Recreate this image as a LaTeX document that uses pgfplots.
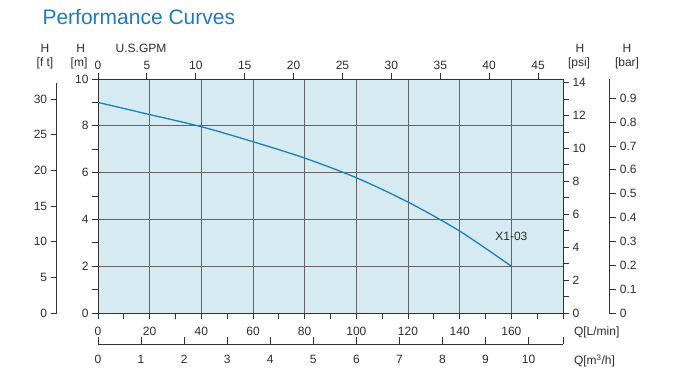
\documentclass[border=0pt]{standalone}
\usepackage{pgfplots}
\pgfplotsset{compat=1.18}
\usepackage{fontspec}
\setmainfont{Liberation Sans}
\definecolor{ttl}{RGB}{30,125,180}
\definecolor{crv}{RGB}{25,130,185}
\definecolor{bgf}{RGB}{214,234,241}
\definecolor{grd}{RGB}{100,100,100}
\definecolor{axc}{RGB}{50,50,50}
\definecolor{txt}{RGB}{45,45,45}
\begin{document}
\begin{tikzpicture}
\useasboundingbox (0pt,0pt) rectangle (700pt,385pt);
\pgfplotsset{every axis/.append style={
  scale only axis,
  tick label style={font=\fontsize{12}{14}\selectfont, text=txt},
  /pgf/number format/assume math mode=true,
  axis line style={axc, line width=0.9pt},
  every tick/.style={axc, line width=0.9pt},
  major tick length=6pt, minor tick length=6pt,
  tick align=outside,
}}
% main axis
\begin{axis}[
  at={(98pt,72pt)}, anchor=south west,
  width=465pt, height=234pt,
  xmin=0, xmax=180, ymin=0, ymax=10,
  xtick={0,20,...,160}, minor xtick={10,30,...,170,180},
  ytick={0,2,...,10}, minor ytick={1,3,...,9},
  xtick pos=bottom, ytick pos=left,
  xticklabel style={yshift=-5pt},
  grid=major, grid style={grd, line width=0.6pt},
  axis background/.style={fill=bgf},
]
\addplot[crv, line width=1.3pt, smooth, tension=0.5] coordinates {
(0,9.0)(20,8.48)(40,7.96)(60,7.32)(80,6.62)(100,5.78)(120,4.74)(140,3.5)(160,2.0)};
\node[font=\fontsize{12}{14}\selectfont, text=txt] at (axis cs:160,3.28) {X1-03};
\end{axis}
% GPM top axis
\begin{axis}[
  at={(98pt,72pt)}, anchor=south west,
  width=465pt, height=234pt,
  xmin=0, xmax=47.551, ymin=0, ymax=1,
  axis x line*=top, hide y axis,
  xtick={0,5,...,45},
]
\end{axis}
% psi right axis
\begin{axis}[
  at={(98pt,72pt)}, anchor=south west,
  width=465pt, height=234pt,
  xmin=0, xmax=1, ymin=0, ymax=14.2233,
  axis y line*=right, hide x axis,
  ytick={0,2,...,14}, minor ytick={1,3,...,13},
]
\end{axis}
% bar axis
\begin{axis}[
  at={(609.3pt,72pt)}, anchor=south east,
  width=20pt, height=234pt,
  xmin=0, xmax=1, ymin=0, ymax=0.98067,
  axis y line*=right, hide x axis,
  major tick length=7pt,
  ytick={0,0.1,0.2,0.3,0.4,0.5,0.6,0.7,0.8,0.9},
  yticklabels={0,0.1,0.2,0.3,0.4,0.5,0.6,0.7,0.8,0.9},
]
\end{axis}
% ft axis
\begin{axis}[
  at={(56.7pt,72pt)}, anchor=south west,
  width=20pt, height=230.4pt,
  xmin=0, xmax=1, ymin=0, ymax=32.3,
  axis y line*=left, hide x axis,
  ytick={0,5,...,30},
]
\end{axis}
% m3/h axis
\begin{axis}[
  at={(98pt,41pt)}, anchor=south west,
  width=465pt, height=10pt,
  xmin=0, xmax=10.8, ymin=0, ymax=1,
  axis x line*=bottom, hide y axis,
  tick align=inside, major tick length=7pt,
  xtick={0,1,...,10},
  xticklabel style={yshift=-8pt},
  extra x ticks={10.8}, extra x tick labels={},
]
\end{axis}
% texts
\node[anchor=base west, font=\fontsize{21}{24}\selectfont, text=ttl] at (39pt,360.5pt) {Performance Curves};
\begin{scope}[every node/.style={font=\fontsize{12}{14}\selectfont, text=txt}]
\node at (45pt,336.3pt) {H};
\node at (45pt,321.3pt) {[f t]};
\node at (80.7pt,336.3pt) {H};
\node at (79pt,321.3pt) {[m]};
\node at (141pt,336.3pt) {U.S.GPM};
\node at (580pt,336.3pt) {H};
\node at (579pt,321.3pt) {[psi]};
\node at (627pt,336.3pt) {H};
\node at (627pt,321.3pt) {[bar]};
\node[anchor=west] at (570.5pt,52.3pt) {Q[L/min]};
\node[anchor=west] at (570.5pt,24pt) {Q[m\textsuperscript{3}/h]};
\end{scope}
\end{tikzpicture}
\end{document}
